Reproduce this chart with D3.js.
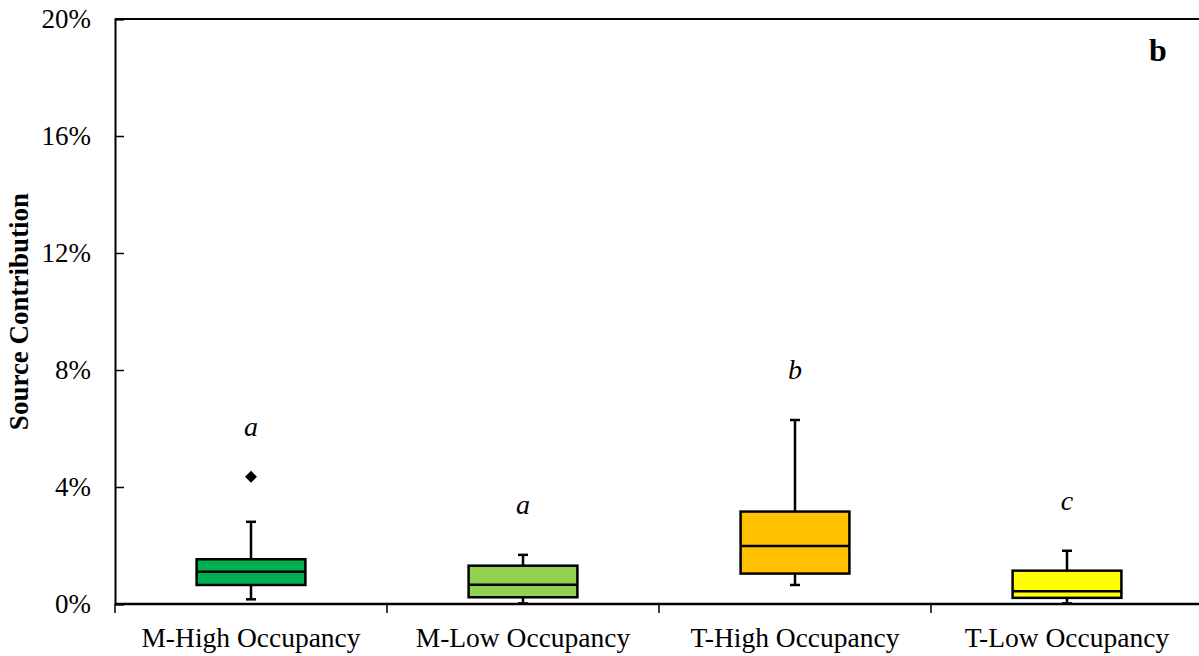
<!DOCTYPE html>
<html>
<head>
<meta charset="utf-8">
<script src="https://cdn.jsdelivr.net/npm/d3@7"></script>
<style>
  html, body { margin: 0; padding: 0; background: #fff; }
  svg { display: block; }
  text { font-family: "Liberation Serif", "Times New Roman", serif; fill: #000; }
</style>
</head>
<body>
<svg id="chart" width="1199" height="656"></svg>
<script>
// Occupancy groups and their box-plot summaries (source contribution, %)
const categories = ["M-High Occupancy", "M-Low Occupancy", "T-High Occupancy", "T-Low Occupancy"];
const whiskerLow = [0.16, 0.02, 0.65, 0.02];
const q1         = [0.65, 0.23, 1.04, 0.21];
const median     = [1.10, 0.66, 1.98, 0.44];
const q3         = [1.53, 1.31, 3.16, 1.14];
const whiskerHigh = [2.81, 1.68, 6.29, 1.82];
const outliers   = [[4.35], [], [], []];
const groupLetters = ["a", "a", "b", "c"];
const fills = ["#00B050", "#92D050", "#FFC000", "#FFFF00"];
const yTicks = [0, 4, 8, 12, 16, 20];
const panelLabel = "b";

const svg = d3.select("#chart");
const margin = { left: 115, top: 19, right: -4, bottom: 52 };
const W = 1199, H = 656;
const plotRight = W - margin.right;
const plotBottom = H - margin.bottom;

const x = d3.scaleBand().domain(categories).range([margin.left, plotRight]).padding(0);
const y = d3.scaleLinear().domain([0, 20]).range([plotBottom, margin.top]);

const rows = categories.map((c, i) => ({
  cat: c, lo: whiskerLow[i], q1: q1[i], med: median[i], q3: q3[i], hi: whiskerHigh[i],
  out: outliers[i], letter: groupLetters[i], fill: fills[i]
}));

// Frame: top edge
svg.append("line")
  .attr("x1", margin.left).attr("x2", plotRight)
  .attr("y1", y(20)).attr("y2", y(20))
  .attr("stroke", "#000").attr("stroke-width", 2);

// Y axis with inward ticks
const yAxis = d3.axisLeft(y).tickValues(yTicks).tickFormat(d => d + "%").tickSize(-9).tickPadding(24);
const gy = svg.append("g").attr("transform", `translate(${margin.left},0)`).call(yAxis);
gy.select(".domain").attr("stroke", "#000").attr("stroke-width", 2);
gy.selectAll(".tick line").attr("stroke", "#000").attr("stroke-width", 1.5);
gy.selectAll(".tick text").attr("font-size", 27).attr("font-family", "Liberation Serif").attr("fill", "#000");

// X axis: ticks at category boundaries
const bounds = categories.map(c => x(c)).concat([x(categories[categories.length - 1]) + x.bandwidth()]);
const gx = svg.append("g");
gx.append("line")
  .attr("x1", margin.left).attr("x2", plotRight)
  .attr("y1", plotBottom).attr("y2", plotBottom)
  .attr("stroke", "#000").attr("stroke-width", 2.5);
gx.selectAll("line.b").data(bounds).join("line").attr("class", "b")
  .attr("x1", d => d).attr("x2", d => d)
  .attr("y1", plotBottom).attr("y2", plotBottom + 9)
  .attr("stroke", "#000").attr("stroke-width", 1.5);
gx.selectAll("text").data(categories).join("text")
  .attr("x", d => x(d) + x.bandwidth() / 2)
  .attr("y", plotBottom + 43)
  .attr("text-anchor", "middle")
  .attr("font-size", 27.5)
  .text(d => d);

// Y axis title
svg.append("text")
  .attr("transform", `translate(28,${(margin.top + plotBottom) / 2}) rotate(-90)`)
  .attr("text-anchor", "middle")
  .attr("font-size", 27)
  .attr("font-weight", "bold")
  .text("Source Contribution");

// Boxes
const boxW = x.bandwidth() * 0.40;
const capW = 10;
const g = svg.append("g").selectAll("g").data(rows).join("g")
  .attr("transform", d => `translate(${x(d.cat) + x.bandwidth() / 2},0)`);

// whiskers
g.append("line")
  .attr("x1", 0).attr("x2", 0)
  .attr("y1", d => y(d.q3)).attr("y2", d => y(d.hi))
  .attr("stroke", "#000").attr("stroke-width", 2.5);
g.append("line")
  .attr("x1", 0).attr("x2", 0)
  .attr("y1", d => y(d.q1)).attr("y2", d => y(d.lo))
  .attr("stroke", "#000").attr("stroke-width", 2.5);
g.append("line")
  .attr("x1", -capW / 2).attr("x2", capW / 2)
  .attr("y1", d => y(d.hi)).attr("y2", d => y(d.hi))
  .attr("stroke", "#000").attr("stroke-width", 2.5);
g.append("line")
  .attr("x1", -capW / 2).attr("x2", capW / 2)
  .attr("y1", d => y(d.lo)).attr("y2", d => y(d.lo))
  .attr("stroke", "#000").attr("stroke-width", 2.5);

// box bodies
g.append("rect")
  .attr("x", -boxW / 2).attr("width", boxW)
  .attr("y", d => y(d.q3)).attr("height", d => y(d.q1) - y(d.q3))
  .attr("fill", d => d.fill)
  .attr("stroke", "#000").attr("stroke-width", 2.5);
g.append("line")
  .attr("x1", -boxW / 2).attr("x2", boxW / 2)
  .attr("y1", d => y(d.med)).attr("y2", d => y(d.med))
  .attr("stroke", "#000").attr("stroke-width", 2.5);

// outliers
g.selectAll("path.out").data(d => d.out).join("path").attr("class", "out")
  .attr("d", d3.symbol(d3.symbolDiamond2, 90))
  .attr("transform", v => `translate(0,${y(v)})`)
  .attr("fill", "#000");

// significance letters above the highest point of each group
g.append("text")
  .attr("x", 0)
  .attr("y", d => y(Math.max(d.hi, ...d.out)) - 41)
  .attr("text-anchor", "middle")
  .attr("font-size", 28)
  .attr("font-style", "italic")
  .text(d => d.letter);

// panel label
svg.append("text")
  .attr("x", 1158).attr("y", 61)
  .attr("text-anchor", "middle")
  .attr("font-size", 32)
  .attr("font-weight", "bold")
  .text(panelLabel);
</script>
</body>
</html>
